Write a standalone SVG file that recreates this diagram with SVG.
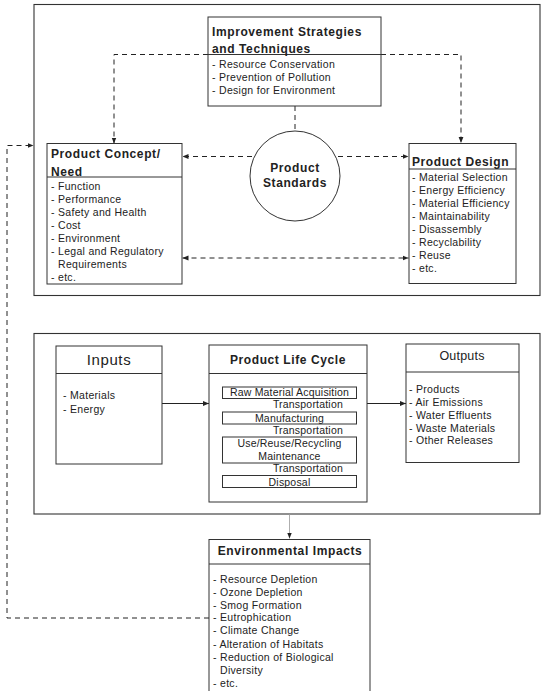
<svg xmlns="http://www.w3.org/2000/svg" width="542" height="691" viewBox="0 0 542 691">
  <style>
    text { font-family: "Liberation Sans", Arial, sans-serif; fill: #222; }
    .title { font-size: 12px; font-weight: bold; letter-spacing: 0.6px; }
    .item { font-size: 10.5px; letter-spacing: 0.3px; }
    .step { font-size: 10.5px; letter-spacing: 0.2px; }
    .frame { fill: none; stroke: #333; stroke-width: 1.1; }
    .box { fill: #fff; stroke: #333; stroke-width: 1; }
    .rule { stroke: #333; stroke-width: 1; }
    .dash { fill: none; stroke: #222; stroke-width: 1; stroke-dasharray: 5 4; }
    .solid { fill: none; stroke: #222; stroke-width: 1; }
  </style>
  <defs>
    <marker id="arrow" viewBox="0 0 10 10" refX="10" refY="5" markerWidth="6" markerHeight="6" orient="auto-start-reverse" markerUnits="userSpaceOnUse">
      <path d="M0,1 L10,5 L0,9 Z" fill="#222"/>
    </marker>
  </defs>

  <rect id="bg" x="0" y="0" width="542" height="691" fill="#fff"/>

  <!-- outer frames -->
  <rect id="design-frame" class="frame" x="34" y="4.5" width="506" height="291"/>
  <rect id="lifecycle-frame" class="frame" x="34" y="333.5" width="506" height="180.5"/>

  <!-- connectors -->
  <g id="connectors">
    <path class="dash" d="M208,54.5 H114 V143.5" marker-end="url(#arrow)"/>
    <path class="dash" d="M381,54.5 H461 V143" marker-end="url(#arrow)"/>
    <path class="dash" d="M295,106 V131"/>
    <path class="dash" d="M252,156.5 H182.5" marker-end="url(#arrow)"/>
    <path class="dash" d="M338,156.5 H408.5" marker-end="url(#arrow)"/>
    <path class="dash" d="M182.5,258 H408.5" marker-start="url(#arrow)" marker-end="url(#arrow)"/>
    <path class="dash" d="M209,618 H7 V145.5 H33.5" marker-end="url(#arrow)"/>
    <path class="solid" d="M162,403.5 H209" marker-end="url(#arrow)"/>
    <path class="solid" d="M367,403.5 H406" marker-end="url(#arrow)"/>
    <path fill="none" stroke="#999" stroke-width="0.8" d="M289.5,514 V538.5" marker-end="url(#arrow)"/>
    <path class="solid" d="M249,373.5 V386.5" marker-end="url(#arrow)"/>
    <path class="solid" d="M249,398.5 V411.5" marker-end="url(#arrow)"/>
    <path class="solid" d="M249,424 V436.5" marker-end="url(#arrow)"/>
    <path class="solid" d="M249,463 V475" marker-end="url(#arrow)"/>
  </g>

  <!-- Improvement Strategies and Techniques -->
  <g id="improvement">
    <rect class="box" x="208" y="17" width="173" height="89"/>
    <line class="rule" x1="208" y1="54.5" x2="381" y2="54.5"/>
    <text class="title" x="212" y="36">Improvement Strategies</text>
    <text class="title" x="212" y="53">and Techniques</text>
    <text class="item" x="212" y="68">- Resource Conservation</text>
    <text class="item" x="212" y="81">- Prevention of Pollution</text>
    <text class="item" x="212" y="94">- Design for Environment</text>
  </g>

  <!-- Product Concept / Need -->
  <g id="concept">
    <rect class="box" x="47" y="143.5" width="135" height="140.5"/>
    <line class="rule" x1="47" y1="177" x2="182" y2="177"/>
    <text class="title" x="51" y="158">Product Concept/</text>
    <text class="title" x="51" y="176">Need</text>
    <text class="item" x="51" y="190">- Function</text>
    <text class="item" x="51" y="203">- Performance</text>
    <text class="item" x="51" y="216">- Safety and Health</text>
    <text class="item" x="51" y="229">- Cost</text>
    <text class="item" x="51" y="242">- Environment</text>
    <text class="item" x="51" y="255">- Legal and Regulatory</text>
    <text class="item" x="58" y="268">Requirements</text>
    <text class="item" x="51" y="281">- etc.</text>
  </g>

  <!-- Product Standards -->
  <g id="standards">
    <circle cx="295" cy="176" r="45" fill="#fff" stroke="#333" stroke-width="1"/>
    <text class="title" x="295" y="172" text-anchor="middle">Product</text>
    <text class="title" x="295" y="187" text-anchor="middle">Standards</text>
  </g>

  <!-- Product Design -->
  <g id="design">
    <rect class="box" x="409" y="143.5" width="107" height="140"/>
    <line class="rule" x1="409" y1="169" x2="516" y2="169"/>
    <text class="title" x="412" y="166">Product Design</text>
    <text class="item" x="412" y="181">- Material Selection</text>
    <text class="item" x="412" y="194">- Energy Efficiency</text>
    <text class="item" x="412" y="207">- Material Efficiency</text>
    <text class="item" x="412" y="220">- Maintainability</text>
    <text class="item" x="412" y="233">- Disassembly</text>
    <text class="item" x="412" y="246">- Recyclability</text>
    <text class="item" x="412" y="259">- Reuse</text>
    <text class="item" x="412" y="272">- etc.</text>
  </g>

  <!-- Inputs -->
  <g id="inputs">
    <rect class="box" x="56" y="346" width="106" height="118"/>
    <line class="rule" x1="56" y1="373.5" x2="162" y2="373.5"/>
    <text x="109" y="365" text-anchor="middle" font-size="15" letter-spacing="0.6">Inputs</text>
    <text class="item" x="63" y="399">- Materials</text>
    <text class="item" x="63" y="413">- Energy</text>
  </g>

  <!-- Product Life Cycle -->
  <g id="lifecycle">
    <rect class="box" x="209" y="345" width="158" height="157"/>
    <line class="rule" x1="209" y1="373.5" x2="367" y2="373.5"/>
    <text class="title" x="288" y="364" text-anchor="middle">Product Life Cycle</text>
    <rect class="box" x="222.5" y="387" width="134" height="11.5"/>
    <text class="step" x="289.5" y="396" text-anchor="middle">Raw Material Acquisition</text>
    <text class="step" x="343" y="408" text-anchor="end">Transportation</text>
    <rect class="box" x="222.5" y="412" width="134" height="12"/>
    <text class="step" x="289.5" y="421.5" text-anchor="middle">Manufacturing</text>
    <text class="step" x="343" y="434" text-anchor="end">Transportation</text>
    <rect class="box" x="222.5" y="437" width="134" height="26"/>
    <text class="step" x="289.5" y="446.5" text-anchor="middle">Use/Reuse/Recycling</text>
    <text class="step" x="289.5" y="460" text-anchor="middle">Maintenance</text>
    <text class="step" x="343" y="472" text-anchor="end">Transportation</text>
    <rect class="box" x="222.5" y="475.5" width="134" height="12"/>
    <text class="step" x="289.5" y="485.5" text-anchor="middle">Disposal</text>
  </g>

  <!-- Outputs -->
  <g id="outputs">
    <rect class="box" x="406" y="344" width="113" height="118.5"/>
    <line class="rule" x1="406" y1="372" x2="519" y2="372"/>
    <text x="462" y="360" text-anchor="middle" font-size="12.5" letter-spacing="0.2">Outputs</text>
    <text class="item" x="409" y="393">- Products</text>
    <text class="item" x="409" y="406">- Air Emissions</text>
    <text class="item" x="409" y="419">- Water Effluents</text>
    <text class="item" x="409" y="432">- Waste Materials</text>
    <text class="item" x="409" y="444">- Other Releases</text>
  </g>

  <!-- Environmental Impacts -->
  <g id="impacts">
    <rect class="box" x="209" y="539.5" width="161" height="170"/>
    <line class="rule" x1="209" y1="564" x2="370" y2="564"/>
    <text class="title" x="290" y="555" text-anchor="middle">Environmental Impacts</text>
    <text class="item" x="213" y="583">- Resource Depletion</text>
    <text class="item" x="213" y="596">- Ozone Depletion</text>
    <text class="item" x="213" y="609">- Smog Formation</text>
    <text class="item" x="213" y="621">- Eutrophication</text>
    <text class="item" x="213" y="634">- Climate Change</text>
    <text class="item" x="213" y="648">- Alteration of Habitats</text>
    <text class="item" x="213" y="661">- Reduction of Biological</text>
    <text class="item" x="220" y="674">Diversity</text>
    <text class="item" x="213" y="687">- etc.</text>
  </g>
</svg>
